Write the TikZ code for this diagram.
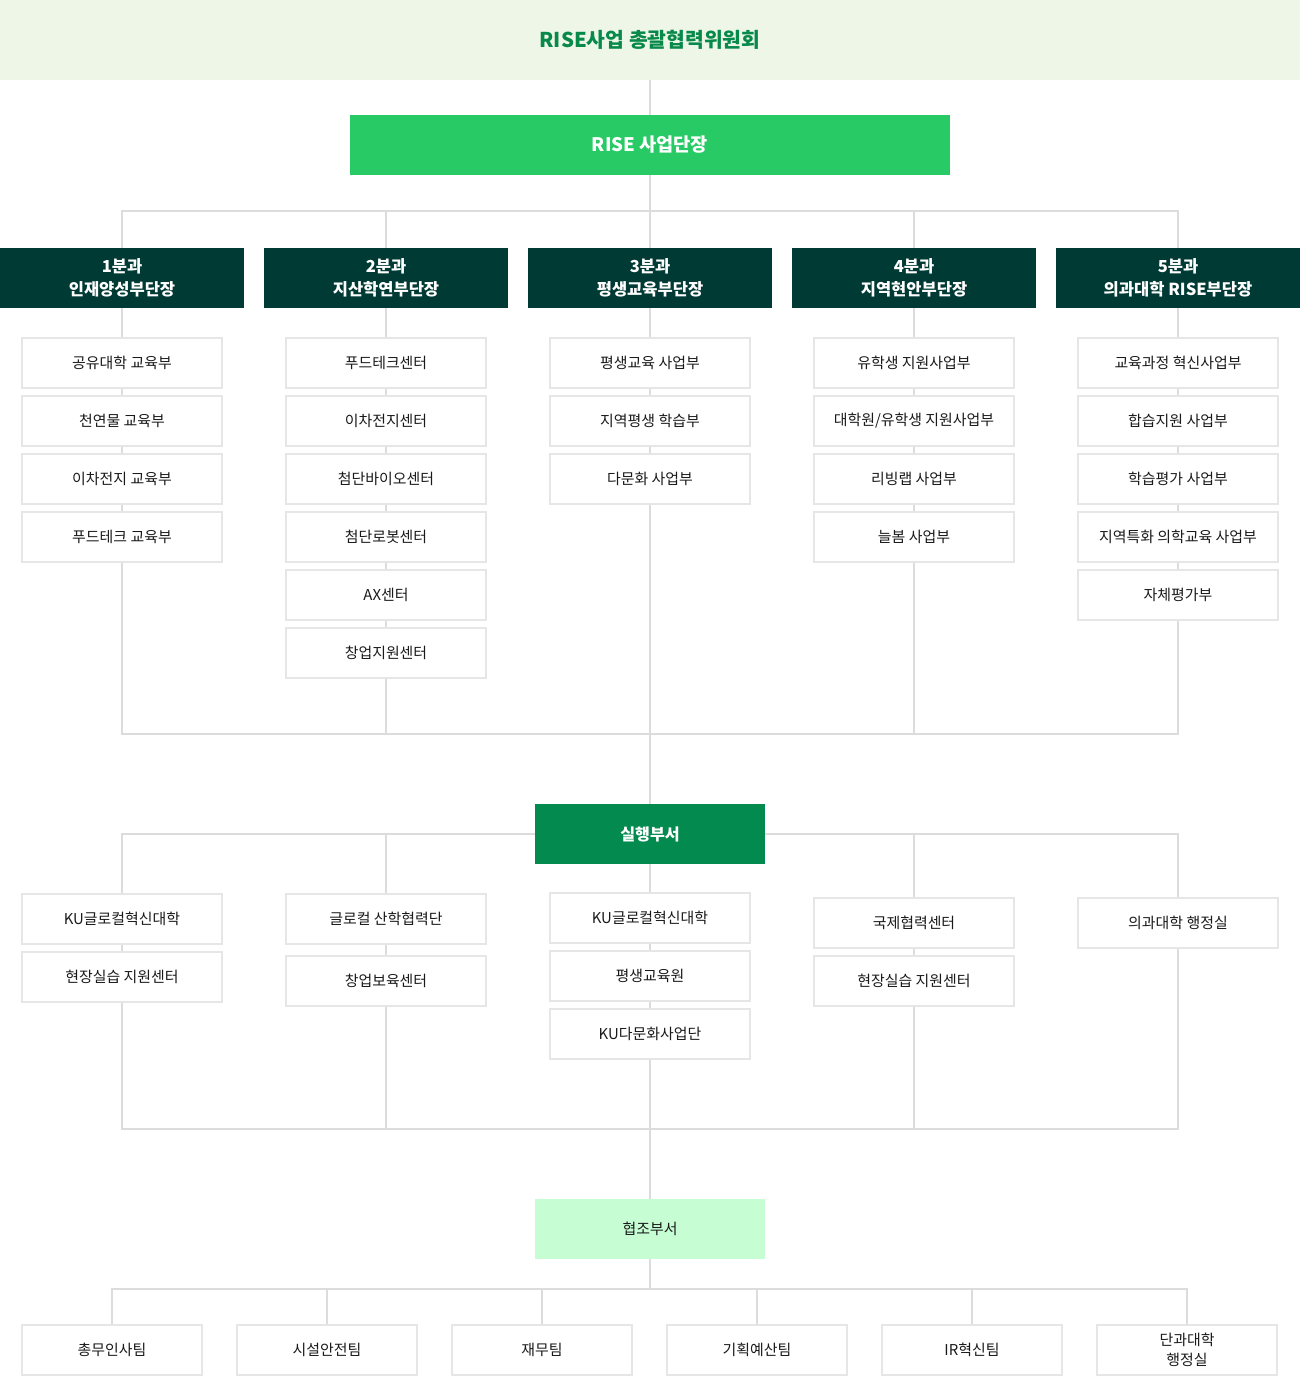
\documentclass[tikz,border=0pt]{standalone}
\usepackage{fontspec}
\setmainfont{Noto Sans CJK KR}
\definecolor{bandbg}{HTML}{EEF6E8}
\definecolor{titlegreen}{HTML}{07894A}
\definecolor{headgreen}{HTML}{28CA66}
\definecolor{divteal}{HTML}{003A34}
\definecolor{execgreen}{HTML}{038A4E}
\definecolor{coopmint}{HTML}{C6FDD3}
\definecolor{linegray}{HTML}{DCDCDC}
\definecolor{boxgray}{HTML}{E6E6E6}
\definecolor{inktext}{HTML}{1A1A1A}

\begin{document}
\begin{tikzpicture}[
  x=0.2mm, y=-0.2mm,
  link/.style={draw=linegray, line width=0.9pt},
  unit/.style={draw=boxgray, line width=1pt, fill=white, minimum width=4cm,
               minimum height=1cm, inner sep=0pt, text=inktext, align=center,
               font=\fontsize{8.5}{11.4}\selectfont},
  team/.style={unit, minimum width=3.6cm},
  division/.style={fill=divteal, text=white, minimum width=4.88cm,
                   minimum height=1.2cm, inner sep=0pt, align=center,
                   font=\fontsize{9.4}{13.4}\selectfont\bfseries},
  leader/.style={fill=headgreen, text=white, minimum width=12cm,
                 minimum height=1.2cm, font=\fontsize{10.6}{12}\selectfont\bfseries},
  hub/.style={minimum width=4.6cm, minimum height=1.2cm, inner sep=0pt},
]
\useasboundingbox (0,0) rectangle (1300,1376);

% committee band and leader
\node[fill=bandbg, minimum width=26cm, minimum height=1.6cm, inner sep=0pt,
      text=titlegreen, font=\fontsize{11.6}{13}\selectfont\bfseries]
  (board) at (650,40) {RISE사업 총괄협력위원회};
\node[leader] (head) at (650,145) {RISE 사업단장};

% divisions
\node[division] (d1) at (122,278) {1분과\\인재양성부단장};
\node[division] (d2) at (386,278) {2분과\\지산학연부단장};
\node[division] (d3) at (650,278) {3분과\\평생교육부단장};
\node[division] (d4) at (914,278) {4분과\\지역현안부단장};
\node[division] (d5) at (1178,278) {5분과\\의과대학 RISE부단장};

% division units
\node[unit] (s11) at (122,363) {공유대학 교육부};
\node[unit] (s12) at (122,421) {천연물 교육부};
\node[unit] (s13) at (122,479) {이차전지 교육부};
\node[unit] (s14) at (122,537) {푸드테크 교육부};

\node[unit] (s21) at (386,363) {푸드테크센터};
\node[unit] (s22) at (386,421) {이차전지센터};
\node[unit] (s23) at (386,479) {첨단바이오센터};
\node[unit] (s24) at (386,537) {첨단로봇센터};
\node[unit] (s25) at (386,595) {AX센터};
\node[unit] (s26) at (386,653) {창업지원센터};

\node[unit] (s31) at (650,363) {평생교육 사업부};
\node[unit] (s32) at (650,421) {지역평생 학습부};
\node[unit] (s33) at (650,479) {다문화 사업부};

\node[unit] (s41) at (914,363) {유학생 지원사업부};
\node[unit] (s42) at (914,421) {대학원/유학생 지원사업부};
\node[unit] (s43) at (914,479) {리빙랩 사업부};
\node[unit] (s44) at (914,537) {늘봄 사업부};

\node[unit] (s51) at (1178,363) {교육과정 혁신사업부};
\node[unit] (s52) at (1178,421) {합습지원 사업부};
\node[unit] (s53) at (1178,479) {학습평가 사업부};
\node[unit] (s54) at (1178,537) {지역특화 의학교육 사업부};
\node[unit] (s55) at (1178,595) {자체평가부};

% executing departments
\node[hub, fill=execgreen, text=white, font=\fontsize{9.2}{11}\selectfont\bfseries]
  (exec) at (650,834) {실행부서};

\node[unit] (x11) at (122,919) {KU글로컬혁신대학};
\node[unit] (x12) at (122,977) {현장실습 지원센터};
\node[unit] (x21) at (386,919) {글로컬 산학협력단};
\node[unit] (x22) at (386,981) {창업보육센터};
\node[unit] (x31) at (650,918) {KU글로컬혁신대학};
\node[unit] (x32) at (650,976) {평생교육원};
\node[unit] (x33) at (650,1034) {KU다문화사업단};
\node[unit] (x41) at (914,923) {국제협력센터};
\node[unit] (x42) at (914,981) {현장실습 지원센터};
\node[unit] (x51) at (1178,923) {의과대학 행정실};

% cooperating departments
\node[hub, fill=coopmint, text=inktext, font=\fontsize{8.5}{10}\selectfont]
  (coop) at (650,1229) {협조부서};

\node[team] (b1) at (112,1350) {총무인사팀};
\node[team] (b2) at (327,1350) {시설안전팀};
\node[team] (b3) at (542,1350) {재무팀};
\node[team] (b4) at (757,1350) {기획예산팀};
\node[team] (b5) at (972,1350) {IR혁신팀};
\node[team] (b6) at (1187,1350) {단과대학\\행정실};

\coordinate (tbus) at (650,211);
\coordinate (mbus) at (650,734);
\coordinate (xbus) at (650,1129);
\coordinate (lbus) at (650,1289);

% connectors
\draw[link] (board) -- (head);
\draw[link] (head) -- (d3);
\draw[link] (d1.north) |- (tbus) -| (d5.north);
\draw[link] (d2.north) -- (d2.north |- tbus);
\draw[link] (d4.north) -- (d4.north |- tbus);

\draw[link] (d1) -- (s11) -- (s12) -- (s13) -- (s14);
\draw[link] (d2) -- (s21) -- (s22) -- (s23) -- (s24) -- (s25) -- (s26);
\draw[link] (d3) -- (s31) -- (s32) -- (s33) -- (exec);
\draw[link] (d4) -- (s41) -- (s42) -- (s43) -- (s44);
\draw[link] (d5) -- (s51) -- (s52) -- (s53) -- (s54) -- (s55);

\draw[link] (s14.south) |- (mbus) -| (s55.south);
\draw[link] (s26.south) -- (s26.south |- mbus);
\draw[link] (s44.south) -- (s44.south |- mbus);

\draw[link] (x11.north) |- (exec.west);
\draw[link] (exec.east) -| (x51.north);
\draw[link] (x21.north) -- (x21.north |- exec.west);
\draw[link] (x41.north) -- (x41.north |- exec.east);
\draw[link] (exec) -- (x31) -- (x32) -- (x33) -- (coop);
\draw[link] (x11) -- (x12);
\draw[link] (x21) -- (x22);
\draw[link] (x41) -- (x42);

\draw[link] (x12.south) |- (xbus) -| (x51.south);
\draw[link] (x22.south) -- (x22.south |- xbus);
\draw[link] (x42.south) -- (x42.south |- xbus);

\draw[link] (coop) -- (lbus);
\draw[link] (b1.north) |- (lbus) -| (b6.north);
\draw[link] (b2.north) -- (b2.north |- lbus);
\draw[link] (b3.north) -- (b3.north |- lbus);
\draw[link] (b4.north) -- (b4.north |- lbus);
\draw[link] (b5.north) -- (b5.north |- lbus);

\end{tikzpicture}
\end{document}
